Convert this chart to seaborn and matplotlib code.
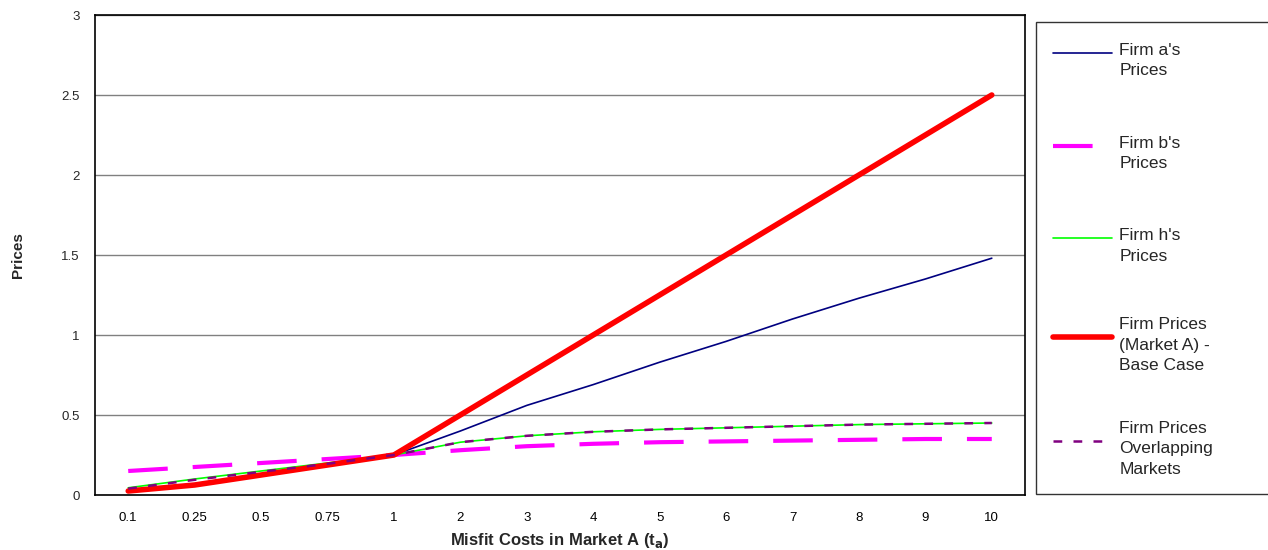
import numpy as np
import pandas as pd
import matplotlib
matplotlib.use("Agg")
import matplotlib.pyplot as plt
import seaborn as sns

# misfit cost categories (x axis is categorical, as in the original spreadsheet chart)
categories = ["0.1", "0.25", "0.5", "0.75", "1", "2", "3", "4", "5", "6", "7", "8", "9", "10"]

firm_a = [0.03, 0.065, 0.13, 0.19, 0.25, 0.40, 0.56, 0.69, 0.83, 0.96, 1.10, 1.23, 1.35, 1.48]
firm_b = [0.15, 0.175, 0.20, 0.225, 0.25, 0.28, 0.305, 0.32, 0.33, 0.335, 0.34, 0.345, 0.35, 0.35]
firm_h = [0.045, 0.10, 0.15, 0.20, 0.25, 0.33, 0.37, 0.395, 0.41, 0.42, 0.43, 0.44, 0.445, 0.45]
base_case = [0.025, 0.0625, 0.125, 0.1875, 0.25, 0.5, 0.75, 1.0, 1.25, 1.5, 1.75, 2.0, 2.25, 2.5]
overlapping = [0.04, 0.095, 0.145, 0.195, 0.25, 0.33, 0.37, 0.395, 0.41, 0.42, 0.43, 0.44, 0.445, 0.45]

labels = ["Firm a's\nPrices", "Firm b's\nPrices", "Firm h's\nPrices",
          "Firm Prices\n(Market A) -\nBase Case", "Firm Prices\nOverlapping\nMarkets"]

sns.set_style("white")
plt.rcParams['font.family'] = ['Liberation Sans', 'DejaVu Sans']

fig = plt.figure(figsize=(12.68, 5.5), dpi=100)
ax = fig.add_axes([95 / 1268, 55 / 550, 930 / 1268, 480 / 550])

x = np.arange(len(categories))
styles = [
    (firm_a, dict(color="#000080", linewidth=1.2)),
    (firm_b, dict(color="#FF00FF", linewidth=3.0, dashes=(9.5, 6))),
    (firm_h, dict(color="#00FF00", linewidth=1.2)),
    (base_case, dict(color="#FF0000", linewidth=4.0, solid_capstyle="round")),
    (overlapping, dict(color="#800080", linewidth=1.8, dashes=(3.5, 4.5))),
]
for (vals, kw), lab in zip(styles, labels):
    sns.lineplot(x=x, y=vals, ax=ax, label=lab, **kw)

ax.set_xlim(-0.5, len(categories) - 0.5)
ax.set_ylim(0, 3)
ax.set_yticks(np.arange(0, 3.01, 0.5))
ax.set_yticklabels(["0", "0.5", "1", "1.5", "2", "2.5", "3"])
ax.set_xticks(x)
ax.set_xticklabels(categories)
ax.set_xticks(np.arange(-0.5, len(categories), 1), minor=True)
ax.tick_params(axis="x", which="major", length=0, pad=12, labelsize=9.5, colors="black")
ax.tick_params(axis="x", which="minor", length=5, width=1, color="black", direction="out")
ax.tick_params(axis="y", length=5, width=1, color="black", direction="out", labelsize=9.5, pad=6)
ax.yaxis.grid(True, color="#808080", linewidth=1)
ax.set_axisbelow(True)
for s in ax.spines.values():
    s.set_visible(True)
    s.set_color("black")
    s.set_linewidth(1.2)

ax.set_ylabel("Prices", fontsize=11, fontweight="bold", labelpad=26)
ax.set_xlabel(r"Misfit Costs in Market A (t$_\mathbf{a}$)", fontsize=12, fontweight="bold", labelpad=5)

ax.get_legend().remove()
h, l = ax.get_legend_handles_labels()
leg = fig.legend(h, l, loc="upper left", mode="expand",
                 bbox_to_anchor=(1036 / 1268, 57 / 550, 240 / 1268, 471 / 550),
                 frameon=True, fancybox=False, edgecolor="black", fontsize=12.5,
                 labelspacing=2.75, handlelength=3.4, handleheight=3.6, handletextpad=0.4,
                 borderaxespad=0, borderpad=1.0)
leg.get_frame().set_linewidth(1.0)
for t in leg.get_texts():
    t.set_linespacing(1.45)

fig.savefig("out.png", dpi=100)
